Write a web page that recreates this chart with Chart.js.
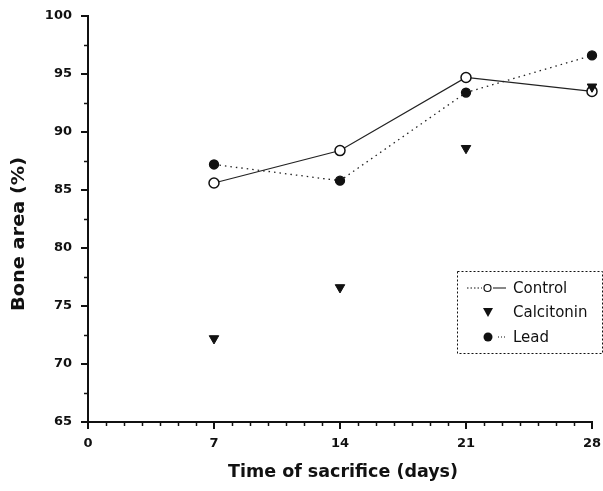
<!DOCTYPE html>
<html><head><meta charset="utf-8">
<script src="https://cdn.jsdelivr.net/npm/chart.js@4"></script>
<style>html,body{margin:0;padding:0;background:#fff}#w{width:603px;height:491px}</style>
</head><body><div id="w"><canvas id="c"></canvas></div>
<script>
const days = [7, 14, 21, 28];
const controlVals = [85.6, 88.4, 94.7, 93.5];
const calcitoninVals = [72.2, 76.6, 88.6, 93.9];
const leadVals = [87.2, 85.8, 93.4, 96.6];
const xTicks = [0, 7, 14, 21, 28];
const yTicks = [65, 70, 75, 80, 85, 90, 95, 100];
const seriesNames = ['Control', 'Calcitonin', 'Lead'];
const xTitle = 'Time of sacrifice (days)';
const yTitle = 'Bone area (%)';

const pts = v => days.map((d, i) => ({x: d, y: v[i]}));
const FONT = '"DejaVu Sans", "Liberation Sans", Arial, sans-serif';

function fitText(ctx, text, x, y, target) {
  const w = ctx.measureText(text).width;
  const s = target / w;
  ctx.save(); ctx.translate(x, y); ctx.scale(s, 1);
  ctx.fillText(text, 0, 0); ctx.restore();
}

const extras = {
  id: 'extras',
  afterDraw(chart) {
    const ctx = chart.ctx, x = chart.scales.x, y = chart.scales.y;
    const ca = chart.chartArea;
    ctx.save();
    ctx.strokeStyle = '#111'; ctx.lineWidth = 1.5;
    for (let d = 0; d <= 28; d++) {
      if (d % 7 === 0) continue;
      const px = Math.round(x.getPixelForValue(d)) + 0.5;
      ctx.beginPath(); ctx.moveTo(px, ca.bottom); ctx.lineTo(px, ca.bottom + 4); ctx.stroke();
    }
    for (let v = 67.5; v < 100; v += 5) {
      const py = Math.round(y.getPixelForValue(v)) + 0.5;
      ctx.beginPath(); ctx.moveTo(ca.left, py); ctx.lineTo(ca.left - 4, py); ctx.stroke();
    }
    ctx.fillStyle = '#111';
    ctx.font = 'bold 17px ' + FONT;
    ctx.textAlign = 'center'; ctx.textBaseline = 'middle';
    fitText(ctx, xTitle, 343, 473, 230);
    ctx.save(); ctx.translate(19, 234); ctx.rotate(-Math.PI / 2);
    ctx.font = 'bold 18px ' + FONT;
    fitText(ctx, yTitle, 0, 0, 154);
    ctx.restore();
    // legend
    const lx = 457, ly = 271, lw = 145, lh = 82;
    ctx.setLineDash([2, 2]); ctx.lineWidth = 1;
    ctx.strokeRect(lx + 0.5, ly + 0.5, lw, lh);
    const rows = [288, 312, 337];
    ctx.setLineDash([1.5, 2]);
    ctx.beginPath(); ctx.moveTo(467, rows[0]); ctx.lineTo(482, rows[0]); ctx.stroke();
    ctx.setLineDash([]);
    ctx.beginPath(); ctx.moveTo(493, rows[0]); ctx.lineTo(506, rows[0]); ctx.stroke();
    ctx.lineWidth = 1.2;
    ctx.beginPath(); ctx.arc(487.5, rows[0], 3.5, 0, Math.PI * 2); ctx.fillStyle = '#fff'; ctx.fill(); ctx.stroke();
    ctx.fillStyle = '#111';
    ctx.beginPath(); ctx.moveTo(483, rows[1] - 4); ctx.lineTo(493, rows[1] - 4); ctx.lineTo(488, rows[1] + 5); ctx.closePath(); ctx.fill();
    ctx.beginPath(); ctx.arc(488, rows[2], 4.5, 0, Math.PI * 2); ctx.fill();
    ctx.setLineDash([1, 2]);
    ctx.beginPath(); ctx.moveTo(498, rows[2]); ctx.lineTo(506, rows[2]); ctx.stroke();
    ctx.setLineDash([]);
    ctx.font = '15px ' + FONT; ctx.textAlign = 'left';
    seriesNames.forEach((n, i) => ctx.fillText(n, 513, rows[i] + 1));
    ctx.restore();
  }
};

new Chart(document.getElementById('c'), {
  type: 'scatter',
  data: {
    datasets: [
      {label: seriesNames[0], order: 2, data: pts(controlVals), showLine: true, clip: false, borderColor: '#222', borderWidth: 1.2,
       pointStyle: 'circle', pointRadius: 5, pointBackgroundColor: '#fff', pointBorderColor: '#111', pointBorderWidth: 1.5},
      {label: seriesNames[1], order: 0, data: pts(calcitoninVals), showLine: false, clip: false,
       pointStyle: 'triangle', rotation: 180, pointRadius: 5.5, backgroundColor: '#111', borderColor: '#111', pointBackgroundColor: '#111'},
      {label: seriesNames[2], order: 1, data: pts(leadVals), showLine: true, clip: false, borderColor: '#222', borderWidth: 1.3, borderDash: [1.5, 4],
       pointStyle: 'circle', pointRadius: 4.5, pointBackgroundColor: '#111', pointBorderColor: '#111'}
    ]
  },
  options: {
    responsive: true, maintainAspectRatio: false, animation: false,
    layout: {padding: {left: 0, right: 11, top: 16, bottom: 0}},
    plugins: {legend: {display: false}, tooltip: {enabled: false}},
    scales: {
      x: {type: 'linear', min: 0, max: 28,
        afterFit(s) { s.height = 69; s.paddingLeft = 0; s.paddingRight = 0; },
        afterBuildTicks(s) { s.ticks = xTicks.map(v => ({value: v})); },
        border: {display: true, color: '#111', width: 2},
        grid: {drawOnChartArea: false, drawTicks: true, tickLength: 7, color: '#111', lineWidth: 2},
        ticks: {color: '#111', font: {family: FONT, size: 13, weight: 'bold'}, padding: 7, maxRotation: 0}
      },
      y: {min: 65, max: 100,
        afterFit(s) { s.width = 88; s.paddingTop = 0; s.paddingBottom = 0; },
        afterBuildTicks(s) { s.ticks = yTicks.map(v => ({value: v})); },
        border: {display: true, color: '#111', width: 2},
        grid: {drawOnChartArea: false, drawTicks: true, tickLength: 7, color: '#111', lineWidth: 2},
        ticks: {color: '#111', font: {family: FONT, size: 13, weight: 'bold'}, padding: 9}
      }
    }
  },
  plugins: [extras]
});
</script></body></html>
